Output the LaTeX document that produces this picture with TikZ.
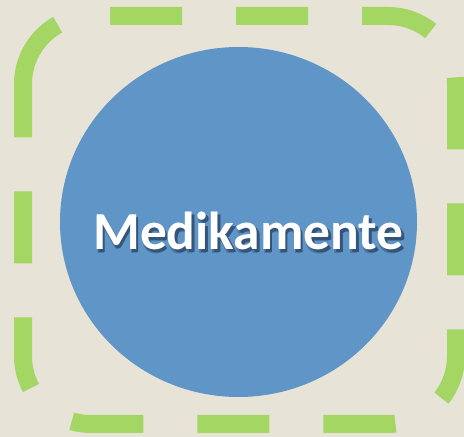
\documentclass[tikz,border=0pt]{standalone}
\usepackage{fontspec}
\setmainfont{Carlito}
\definecolor{bgbeige}{RGB}{231,228,215}
\definecolor{dashgreen}{RGB}{163,214,98}
\definecolor{circblue}{RGB}{96,149,200}
\definecolor{shadowblueA}{RGB}{78,118,160}
\definecolor{shadowblueB}{RGB}{52,84,122}
\newcommand{\shadowword}[1]{%
  \makebox[0pt][l]{\hspace{1pt}\raisebox{-3.5pt}{\color{shadowblueA}#1}}%
  \makebox[0pt][l]{\hspace{2.5pt}\raisebox{-2.5pt}{\color{shadowblueB}#1}}%
  #1}
\tikzset{
  frame/.style={draw=dashgreen, line width=18pt, dash pattern=on 72pt off 54pt, line cap=butt},
  disc/.style={fill=circblue},
  label/.style={text=white, font=\fontsize{53.5}{60}\selectfont\bfseries, anchor=base, inner sep=0pt}
}
\begin{document}
\begin{tikzpicture}[x=1pt,y=1pt]
\fill[bgbeige] (0,0) rectangle (464,437);
\useasboundingbox (0,0) rectangle (464,437);
\draw[frame] (23,353) arc[start angle=180, end angle=90, radius=68]
  -- (388,421) arc[start angle=90, end angle=0, radius=68]
  -- (456,81) arc[start angle=0, end angle=-90, radius=68]
  -- (91,13) arc[start angle=270, end angle=180, radius=68]
  -- cycle;
\fill[disc] (238.5,215) ellipse[x radius=178.5, y radius=175];
\node[label] (t) at (248.5,187) {\shadowword{Medikamente}};
\end{tikzpicture}
\end{document}
